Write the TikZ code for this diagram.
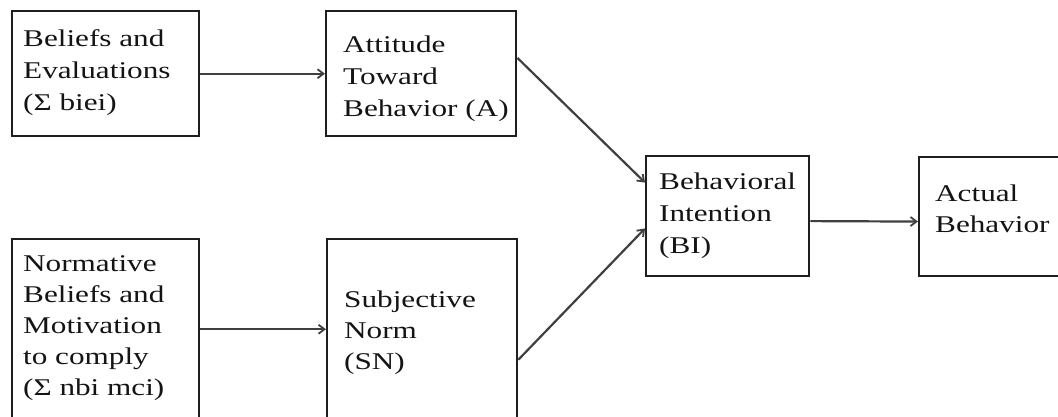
\documentclass[tikz,border=0pt]{standalone}
\usepackage{fontspec}
\setmainfont[FakeStretch=1.3]{Liberation Serif}
\usetikzlibrary{arrows.meta,calc}
\begin{document}
\begin{tikzpicture}[x=1pt,y=-1pt,
  boxnode/.style={draw=black!88,line width=2.4pt,anchor=north west,inner sep=0pt},
  txt/.style={anchor=north west,inner sep=0pt,align=left,text=black!92,
    font=\fontsize{24}{32}\selectfont},
  tighttxt/.style={txt,font=\fontsize{24}{31}\selectfont},
  link/.style={draw=black!75,line width=2.2pt,
    -{Straight Barb[length=6pt,width=9pt,line width=1.8pt]}}]
\fill[white] (0,0) rectangle (1058,416);
\useasboundingbox (0,0) rectangle (1058,416);
\clip (0,0) rectangle (1058,416);

% boxes
\node[boxnode,minimum width=187pt,minimum height=125pt] (bel) at (11,10) {};
\node[boxnode,minimum width=190pt,minimum height=125pt] (att) at (325,10) {};
\node[boxnode,minimum width=187pt,minimum height=180pt] (nor) at (11,238) {};
\node[boxnode,minimum width=190pt,minimum height=180pt] (sub) at (326,238) {};
\node[boxnode,minimum width=163pt,minimum height=120pt] (bi) at (645,155) {};
\node[boxnode,minimum width=160pt,minimum height=119pt] (act) at (918,156) {};

% box texts
\node[txt] (belT) at (23,29) {Beliefs and\\Evaluations\\(Σ biei)};
\node[txt] (attT) at (343,36) {Attitude\\Toward\\Behavior (A)};
\node[tighttxt] (norT) at (23,255) {Normative\\Beliefs and\\Motivation\\to comply\\(Σ nbi mci)};
\node[tighttxt] (subT) at (344,291) {Subjective\\Norm\\(SN)};
\node[txt] (biT) at (659,173) {Behavioral\\Intention\\(BI)};
\node[tighttxt] (actT) at (935,185) {Actual\\Behavior};

% connectors
\draw[link] (bel.east) -- (att.west);
\draw[link] (nor.east) -- (sub.west);
\draw[link] ($(att.north east)!0.376!(att.south east)$) -- ($(bi.north west)!0.225!(bi.south west)$);
\draw[link] ($(sub.north east)!0.667!(sub.south east)$) -- ($(bi.north west)!0.6!(bi.south west)$);
\draw[link] ($(bi.north east)!0.54!(bi.south east)$) -- ($(act.north west)!0.54!(act.south west)$);
\end{tikzpicture}
\end{document}
